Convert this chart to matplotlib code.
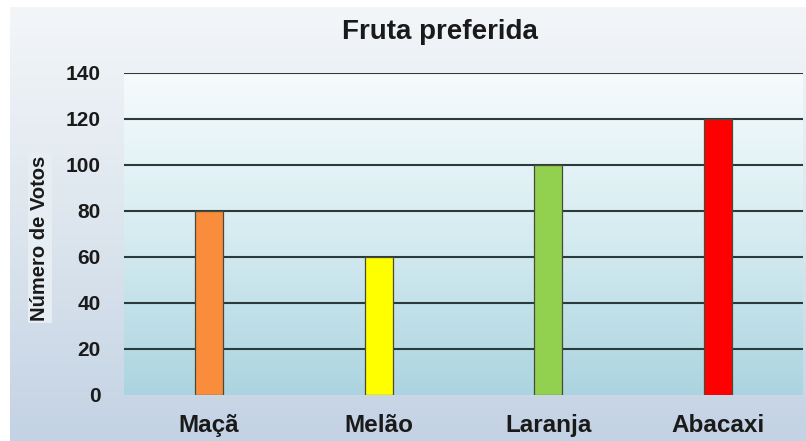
import numpy as np
import matplotlib
matplotlib.use("Agg")
import matplotlib.pyplot as plt
from matplotlib.colors import LinearSegmentedColormap

plt.rcParams["font.family"] = ["Liberation Sans", "DejaVu Sans"]

# dados
frutas = ["Maçã", "Melão", "Laranja", "Abacaxi"]
votos = [80, 60, 100, 120]
cores = ["#f98d3b", "#ffff00", "#92d050", "#ff0000"]
yticks = [0, 20, 40, 60, 80, 100, 120, 140]

W, H = 806, 441
fig = plt.figure(figsize=(W / 100, H / 100), dpi=100)
fig.patch.set_facecolor("white")

# fundo externo em degradê (cinza-azulado)
bg = fig.add_axes([10 / W, 0, 1 - 10 / W, 1 - 7 / H], zorder=-10)
grad = np.linspace(0, 1, 256).reshape(-1, 1)
cm_out = LinearSegmentedColormap.from_list("out", ["#f3f6f9", "#dde6ee", "#c3d2e4"])
bg.imshow(grad, aspect="auto", cmap=cm_out, extent=[0, 1, 0, 1], origin="upper")
bg.set_axis_off()

# área do gráfico com degradê branco -> azul claro
ax = fig.add_axes([124 / W, 1 - 395 / H, (803 - 124) / W, (395 - 73) / H])
cm_in = LinearSegmentedColormap.from_list("in", ["#f6fbfc", "#d6ecf1", "#abd4e0"])
ax.imshow(grad, aspect="auto", cmap=cm_in, extent=[-0.5, 3.5, 0, 140],
          origin="upper", zorder=0)

x = np.arange(len(frutas))
for v in yticks[1:]:
    ax.axhline(v, color="#2b3a3a", lw=1.5, zorder=1)
ax.bar(x, votos, width=0.165, color=cores, edgecolor="#4a4a3a", linewidth=0.9, zorder=2)

ax.set_xlim(-0.5, 3.5)
ax.set_ylim(0, 140)
ax.set_yticks(yticks)
ax.set_yticklabels([str(t) for t in yticks], fontsize=15, fontweight="bold", color="#1a1a1a")
ax.set_xticks(x)
ax.set_xticklabels(frutas, fontsize=17.5, fontweight="bold", color="#1a1a1a")
ax.tick_params(length=0, pad=17, axis="y")
ax.tick_params(length=0, pad=14, axis="x")
for s in ax.spines.values():
    s.set_visible(False)

fig.text(40 / W, 1 - 238 / H, "Número de Votos", rotation=90, ha="center", va="center",
         fontsize=14.5, fontweight="bold", color="#1a1a1a",
         bbox=dict(facecolor="#e6edf3", edgecolor="none", pad=2))
fig.text(440 / W, 1 - 32 / H, "Fruta preferida", ha="center", va="center",
         fontsize=20, fontweight="bold", color="#1a1a1a")

fig.savefig("out.png", dpi=100)
